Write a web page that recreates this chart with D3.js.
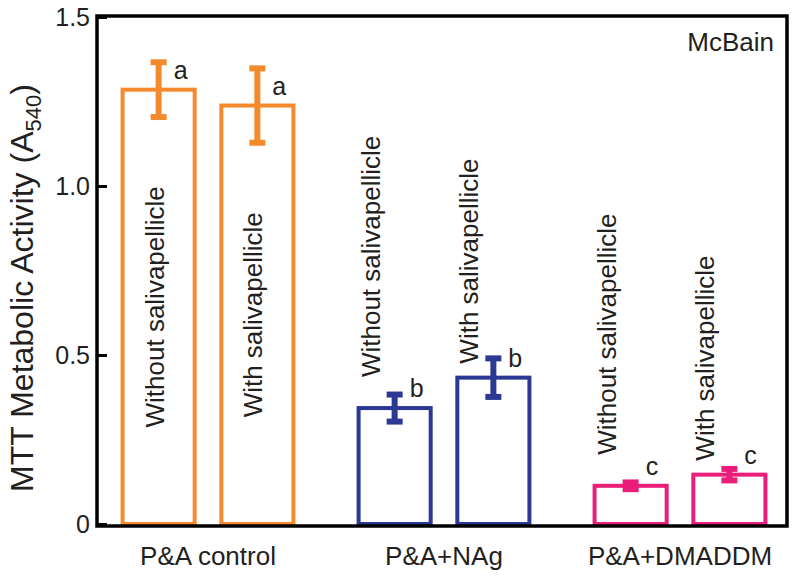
<!DOCTYPE html>
<html>
<head>
<meta charset="utf-8">
<script src="https://cdn.jsdelivr.net/npm/d3@7"></script>
<style>
  body { margin: 0; background: #fff; }
  svg { display: block; font-family: "Liberation Sans", Arial, Helvetica, sans-serif; }
</style>
</head>
<body>
<svg id="chart" width="800" height="581"></svg>
<script>
// ---- data ----
const groups = ["P&A control", "P&A+NAg", "P&A+DMADDM"];
const subgroups = ["Without salivapellicle", "With salivapellicle"];
const means = [
  [1.285, 1.238],
  [0.343, 0.433],
  [0.113, 0.146]
];
const errors = [
  [0.081, 0.110],
  [0.040, 0.057],
  [0.010, 0.017]
];
const letters = [
  ["a", "a"],
  ["b", "b"],
  ["c", "c"]
];
const groupColors = ["#F48A2C", "#2B3894", "#E81E7A"];
const yTicks = [0, 0.5, 1.0, 1.5];
const yTickLabels = ["0", "0.5", "1.0", "1.5"];

// ---- layout ----
const svg = d3.select("#chart");
const frame = { left: 97, top: 16, right: 787, bottom: 526 };

const x0 = d3.scaleBand().domain(groups).range([90, 798]).padding(0);
const x1 = d3.scaleBand().domain(subgroups).range([0, x0.bandwidth()])
  .paddingInner(0.27).paddingOuter(0.33);
const y = d3.scaleLinear().domain([0, 1.5]).range([524, 17]);

const rows = [];
groups.forEach((g, gi) => {
  subgroups.forEach((s, si) => {
    rows.push({ g, gi, s, si, v: means[gi][si], e: errors[gi][si], l: letters[gi][si], c: groupColors[gi] });
  });
});

const bx = d => x0(d.g) + x1(d.s);
const bc = d => bx(d) + x1.bandwidth() / 2;

// bars
svg.append("g").selectAll("rect").data(rows).join("rect")
  .attr("x", bx)
  .attr("y", d => y(d.v))
  .attr("width", x1.bandwidth())
  .attr("height", d => y(0) - y(d.v))
  .attr("fill", "#fff")
  .attr("stroke", d => d.c)
  .attr("stroke-width", 4);

// error bars
const eb = svg.append("g").selectAll("g").data(rows).join("g");
eb.append("line")
  .attr("x1", bc).attr("x2", bc)
  .attr("y1", d => y(d.v - d.e)).attr("y2", d => y(d.v + d.e))
  .attr("stroke", d => d.c).attr("stroke-width", 6);
eb.append("rect")
  .attr("x", d => bc(d) - 8).attr("width", 16)
  .attr("y", d => y(d.v + d.e) - 3).attr("height", 6)
  .attr("fill", d => d.c);
eb.append("rect")
  .attr("x", d => bc(d) - 8).attr("width", 16)
  .attr("y", d => y(d.v - d.e) - 3).attr("height", 6)
  .attr("fill", d => d.c);

// significance letters
svg.append("g").selectAll("text").data(rows).join("text")
  .attr("x", d => bc(d) + 15)
  .attr("y", d => y(d.v) - 11)
  .attr("font-size", 25)
  .attr("fill", "#231F20")
  .text(d => d.l);

// vertical bar labels
svg.append("g").selectAll("text").data(rows).join("text")
  .attr("transform", d => {
    if (d.v > 1) {
      const cy = (y(d.v) + y(0)) / 2;
      return `translate(${bc(d) + 5},${cy}) rotate(-90)`;
    }
    const gap = d.si === 0 ? 31 : 14;
    return `translate(${bx(d) + 21},${y(d.v) - gap}) rotate(-90)`;
  })
  .attr("text-anchor", d => d.v > 1 ? "middle" : "start")
  .attr("font-size", 26)
  .attr("fill", "#231F20")
  .text(d => d.s);

// frame
svg.append("rect")
  .attr("x", frame.left).attr("y", frame.top)
  .attr("width", frame.right - frame.left).attr("height", frame.bottom - frame.top)
  .attr("fill", "none").attr("stroke", "#000").attr("stroke-width", 3.5);

// y axis
const yAxis = d3.axisLeft(y).tickValues(yTicks)
  .tickFormat((d, i) => yTickLabels[i])
  .tickSize(-10).tickPadding(7);
const ga = svg.append("g").attr("transform", `translate(${frame.left},0)`).call(yAxis);
ga.select(".domain").remove();
ga.selectAll(".tick line").attr("stroke", "#000").attr("stroke-width", 3);
ga.selectAll(".tick text").attr("font-size", 25).attr("fill", "#231F20")
  .attr("font-family", "Liberation Sans, Arial, sans-serif");

// x labels
svg.append("g").selectAll("text").data(groups).join("text")
  .attr("x", d => x0(d) + x0.bandwidth() / 2)
  .attr("y", 565)
  .attr("text-anchor", "middle")
  .attr("font-size", 26)
  .attr("fill", "#231F20")
  .text(d => d);

// y title
const yt = svg.append("text")
  .attr("transform", `translate(33,288) rotate(-90)`)
  .attr("text-anchor", "middle")
  .attr("font-size", 32)
  .attr("fill", "#231F20");
yt.append("tspan").text("MTT Metabolic Activity (A");
yt.append("tspan").attr("font-size", 22).attr("dy", 8).text("540");
yt.append("tspan").attr("dy", -8).text(")");

// annotation
svg.append("text")
  .attr("x", 774).attr("y", 51)
  .attr("text-anchor", "end")
  .attr("font-size", 26)
  .attr("fill", "#231F20")
  .text("McBain");
</script>
</body>
</html>
